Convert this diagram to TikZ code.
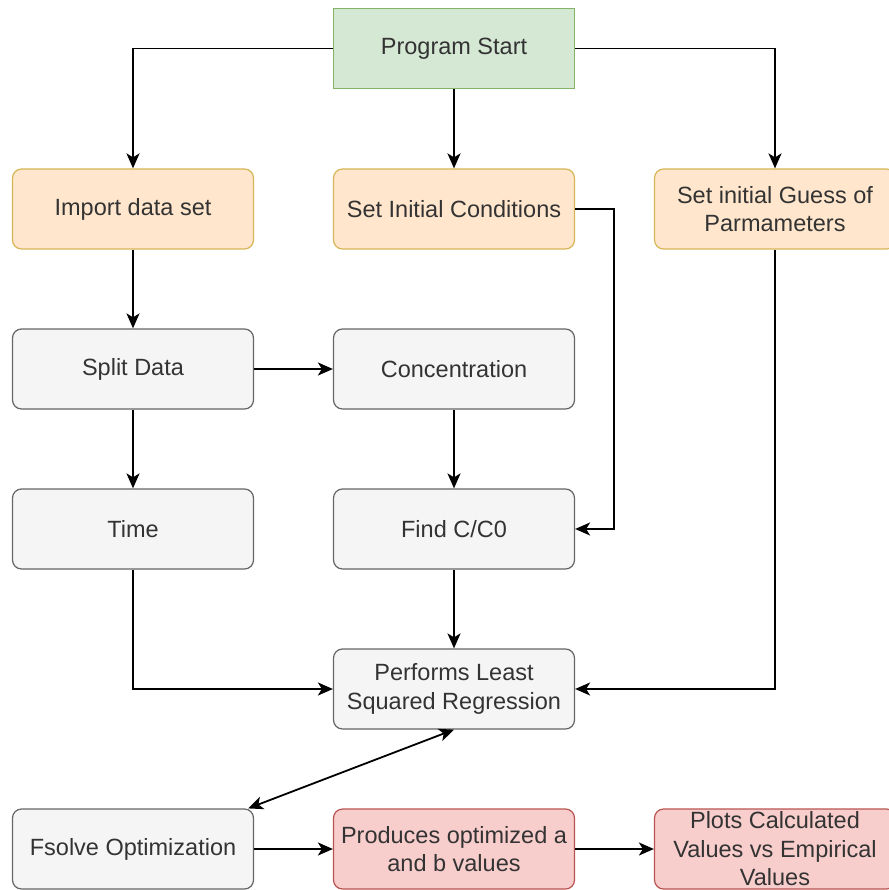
\documentclass[tikz,border=0pt]{standalone}
\usepackage{fontspec}
\setmainfont{Liberation Sans}
\usetikzlibrary{arrows.meta}
\definecolor{gfill}{HTML}{D5E8D4}
\definecolor{gstroke}{HTML}{82B366}
\definecolor{ofill}{HTML}{FFE6CC}
\definecolor{ostroke}{HTML}{D6B656}
\definecolor{sfill}{HTML}{F5F5F5}
\definecolor{sstroke}{HTML}{666666}
\definecolor{rfill}{HTML}{F8CECC}
\definecolor{rstroke}{HTML}{B85450}
\definecolor{txt}{HTML}{333333}
\tikzset{
  box/.style={draw, line width=1.2pt, minimum width=241pt, minimum height=80pt,
    inner sep=0pt, align=center, text=txt, font=\fontsize{23.5}{28.5}\selectfont,
    rounded corners=9pt},
  greenbox/.style={box, fill=gfill, draw=gstroke, rounded corners=0pt},
  orangebox/.style={box, fill=ofill, draw=ostroke},
  graybox/.style={box, fill=sfill, draw=sstroke},
  redbox/.style={box, fill=rfill, draw=rstroke},
  tip/.tip={Stealth[length=15pt,width=13pt,inset=4pt]},
  arr/.style={line width=1.8pt, -tip},
  darr/.style={line width=1.8pt, tip-tip}
}
\begin{document}
\begin{tikzpicture}[x=1pt,y=-1pt]
\useasboundingbox (0,0) rectangle (888,890);
\node[greenbox] (start) at (454,48.5) {Program Start};
\node[orangebox] (imp) at (133,209) {Import data set};
\node[orangebox] (sic) at (454,209) {Set Initial Conditions};
\node[orangebox] (guess) at (775,209) {Set initial Guess of\\Parmameters};
\node[graybox] (split) at (133,369) {Split Data};
\node[graybox] (conc) at (454,369) {Concentration};
\node[graybox] (time) at (133,529) {Time};
\node[graybox] (find) at (454,529) {Find C/C0};
\node[graybox] (perf) at (454,689) {Performs Least\\Squared Regression};
\node[graybox] (fsolve) at (133,849) {Fsolve Optimization};
\node[redbox] (prod) at (454,849) {Produces optimized a\\and b values};
\node[redbox] (plots) at (775,849) {Plots Calculated\\Values vs Empirical\\Values};
\coordinate (bend) at (614,209);
\draw[arr] (start.west) -| (imp.north);
\draw[arr] (start.south) -- (sic.north);
\draw[arr] (start.east) -| (guess.north);
\draw[arr] (imp.south) -- (split.north);
\draw[arr] (split.east) -- (conc.west);
\draw[arr] (split.south) -- (time.north);
\draw[arr] (conc.south) -- (find.north);
\draw[arr] (sic.east) -- (bend) |- (find.east);
\draw[arr] (time.south) |- (perf.west);
\draw[arr] (find.south) -- (perf.north);
\draw[arr] (guess.south) |- (perf.east);
\draw[darr] (perf.south) -- ([xshift=-6pt]fsolve.north east);
\draw[arr] (fsolve.east) -- (prod.west);
\draw[arr] (prod.east) -- (plots.west);
\end{tikzpicture}
\end{document}
